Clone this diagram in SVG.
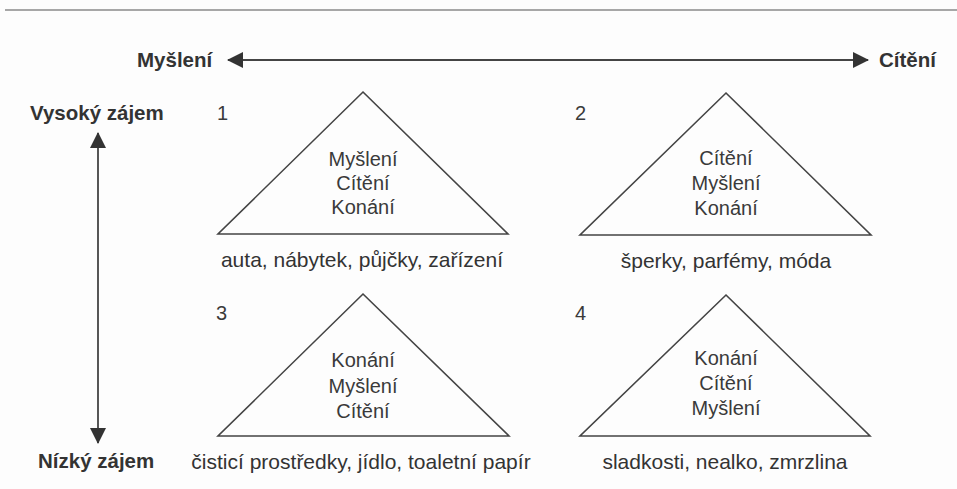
<svg xmlns="http://www.w3.org/2000/svg" width="957" height="489" viewBox="0 0 957 489">
<style>
.ax{font-family:"Liberation Sans",Arial,sans-serif;font-weight:bold;font-size:20.5px;fill:#333}
.t{font-family:"Liberation Sans",Arial,sans-serif;font-size:20px;fill:#3a3a3a;text-anchor:middle}
.b{font-family:"Liberation Sans",Arial,sans-serif;font-size:21px;fill:#333;text-anchor:middle}
.n{font-family:"Liberation Sans",Arial,sans-serif;font-size:20px;fill:#3a3a3a}
.tri{fill:none;stroke:#444;stroke-width:1.6;stroke-linejoin:miter}
.ln{stroke:#444;stroke-width:1.8;fill:none}
</style>
<defs>
<marker id="ah" viewBox="0 0 16 16" refX="15" refY="8" markerWidth="16" markerHeight="16" markerUnits="userSpaceOnUse" orient="auto-start-reverse">
<path d="M0,0 L16,8 L0,16 Z" fill="#333"/>
</marker>
</defs>
<rect width="957" height="489" fill="#fdfdfd"/>
<line x1="5" y1="10" x2="957" y2="10" stroke="#8a8a8a" stroke-width="1.5"/>
<g id="connectors">
<line class="ln" x1="228" y1="60" x2="868" y2="60" marker-start="url(#ah)" marker-end="url(#ah)"/>
<line class="ln" x1="98" y1="133" x2="98" y2="443" marker-start="url(#ah)" marker-end="url(#ah)"/>
</g>
<g id="axis-labels">
<text class="ax" x="137" y="67">Myšlení</text>
<text class="ax" x="879" y="67">Cítění</text>
<text class="ax" x="30" y="120">Vysoký zájem</text>
<text class="ax" x="38" y="468">Nízký zájem</text>
</g>
<g id="node1">
<polygon class="tri" points="363,92 508,234 218,234"/>
<text class="n" x="217" y="120">1</text>
<text class="t" x="363" y="166">Myšlení</text>
<text class="t" x="363" y="190">Cítění</text>
<text class="t" x="363" y="214">Konání</text>
<text class="b" x="362" y="267">auta, nábytek, půjčky, zařízení</text>
</g>
<g id="node2">
<polygon class="tri" points="726,93 871,235 580,235"/>
<text class="n" x="575" y="120">2</text>
<text class="t" x="726" y="165">Cítění</text>
<text class="t" x="726" y="190">Myšlení</text>
<text class="t" x="726" y="215">Konání</text>
<text class="b" x="726" y="268">šperky, parfémy, móda</text>
</g>
<g id="node3">
<polygon class="tri" points="363,294 509,436 218,436"/>
<text class="n" x="216" y="320">3</text>
<text class="t" x="363" y="367">Konání</text>
<text class="t" x="363" y="393">Myšlení</text>
<text class="t" x="363" y="418">Cítění</text>
<text class="b" x="361" y="469">čisticí prostředky, jídlo, toaletní papír</text>
</g>
<g id="node4">
<polygon class="tri" points="726,295 870,436 580,436"/>
<text class="n" x="575" y="320">4</text>
<text class="t" x="726" y="365">Konání</text>
<text class="t" x="726" y="390">Cítění</text>
<text class="t" x="726" y="415">Myšlení</text>
<text class="b" x="725" y="469">sladkosti, nealko, zmrzlina</text>
</g>
</svg>
